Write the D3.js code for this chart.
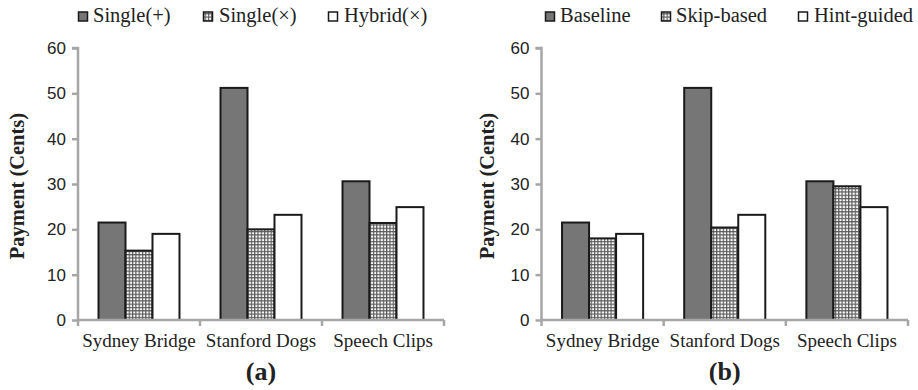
<!DOCTYPE html>
<html><head><meta charset="utf-8">
<script src="https://cdn.jsdelivr.net/npm/d3@7"></script>
<style>body{margin:0;background:#fff}svg{display:block}</style>
</head><body>
<svg id="c" width="918" height="390"></svg>
<script>
const categories = ["Sydney Bridge", "Stanford Dogs", "Speech Clips"];
const yTicks = [0, 10, 20, 30, 40, 50, 60];
const seriesA = ["Single(+)", "Single(\u00d7)", "Hybrid(\u00d7)"];
const valuesA_single_plus = [21.5, 51.2, 30.6];
const valuesA_single_times = [15.3, 20.0, 21.4];
const valuesA_hybrid = [19.0, 23.2, 24.9];
const seriesB = ["Baseline", "Skip-based", "Hint-guided"];
const valuesB_baseline = [21.5, 51.2, 30.6];
const valuesB_skip = [18.0, 20.4, 29.5];
const valuesB_hint = [19.0, 23.2, 24.9];
const yLabel = "Payment (Cents)";
const captions = ["(a)", "(b)"];

const svg = d3.select("#c");
const defs = svg.append("defs");
const pat = defs.append("pattern").attr("id","grid").attr("patternUnits","userSpaceOnUse")
  .attr("width",3.3).attr("height",3.3);
pat.append("rect").attr("width",3.3).attr("height",3.3).attr("fill","#fff");
pat.append("rect").attr("x",0).attr("y",0).attr("width",1.2).attr("height",3.3).attr("fill","#5a5a5a");
pat.append("rect").attr("x",0).attr("y",0).attr("width",3.3).attr("height",1.2).attr("fill","#5a5a5a");

const fills = ["#767676", "url(#grid)", "#ffffff"];
const serif = "'Liberation Serif', 'Times New Roman', serif";
const sans = "'Liberation Sans', Arial, sans-serif";

function panel(opt) {
  const {x0, x1, series, vals, legendSq, legendTx, labelX, caption} = opt;
  const g = svg.append("g");
  const y = d3.scaleLinear().domain([0, 60]).range([320, 48]);
  const x = d3.scaleBand().domain(categories).range([x0, x1]).padding(0);
  const xi = d3.scaleBand().domain(series).range([0, x.bandwidth()]).paddingInner(0).paddingOuter(0.76);

  series.forEach((s, si) => {
    g.append("g").selectAll("rect").data(vals[si]).join("rect")
      .attr("x", (d, i) => x(categories[i]) + xi(s))
      .attr("y", d => y(d))
      .attr("width", xi.bandwidth())
      .attr("height", d => y(0) - y(d))
      .attr("fill", fills[si])
      .attr("stroke", "#1a1a1a").attr("stroke-width", 2);
  });

  const ya = g.append("g").attr("transform", `translate(${x0},0)`)
    .call(d3.axisLeft(y).tickValues(yTicks).tickSize(6).tickPadding(6));
  ya.select(".domain").attr("stroke", "#a6a6a6").attr("stroke-width", 2.5).attr("d", `M-6,${y(60)}H0V${y(0)}`);
  ya.selectAll(".tick line").attr("stroke", "#a6a6a6").attr("stroke-width", 2.5);
  ya.selectAll(".tick text").attr("font-family", sans).attr("font-size", 17).attr("fill", "#222");

  const xa = g.append("g").attr("transform", `translate(0,${y(0)})`)
    .call(d3.axisBottom(x).tickSize(0).tickPadding(14));
  xa.select(".domain").attr("stroke", "#a6a6a6").attr("stroke-width", 2.5).attr("d", `M${x0},0H${x1}`);
  xa.selectAll(".tick text").attr("font-family", serif).attr("font-size", 19).attr("fill", "#222");
  const bounds = categories.map(c => x(c)).concat([x1]);
  xa.selectAll("line.bt").data(bounds).join("line").attr("class","bt")
    .attr("x1", d => d).attr("x2", d => d).attr("y1", 0).attr("y2", 6)
    .attr("stroke", "#a6a6a6").attr("stroke-width", 2.5);

  g.append("text").attr("transform", `translate(${labelX},186) rotate(-90)`)
    .attr("text-anchor", "middle").attr("dominant-baseline","central")
    .attr("font-family", serif).attr("font-weight", "bold").attr("font-size", 20.5)
    .attr("fill", "#222").text(yLabel);

  series.forEach((s, si) => {
    g.append("rect").attr("x", legendSq[si]).attr("y", 12).attr("width", 9).attr("height", 9)
      .attr("fill", fills[si]).attr("stroke", "#1a1a1a").attr("stroke-width", 1.5);
    g.append("text").attr("x", legendTx[si]).attr("y", 22)
      .attr("font-family", serif).attr("font-size", 20.5).attr("fill", "#222").text(s);
  });

  g.append("text").attr("x", (x0 + x1) / 2).attr("y", 380).attr("text-anchor", "middle")
    .attr("font-family", serif).attr("font-weight", "bold").attr("font-size", 26)
    .attr("fill", "#222").text(caption);
}

panel({x0: 78, x1: 444, series: seriesA,
  vals: [valuesA_single_plus, valuesA_single_times, valuesA_hybrid],
  legendSq: [78.5, 203.5, 328.5], legendTx: [93, 219, 344], labelX: 17, caption: captions[0]});
panel({x0: 541.5, x1: 908, series: seriesB,
  vals: [valuesB_baseline, valuesB_skip, valuesB_hint],
  legendSq: [545.5, 661.5, 798.5], legendTx: [560, 676, 814], labelX: 487, caption: captions[1]});
</script>
</body></html>
